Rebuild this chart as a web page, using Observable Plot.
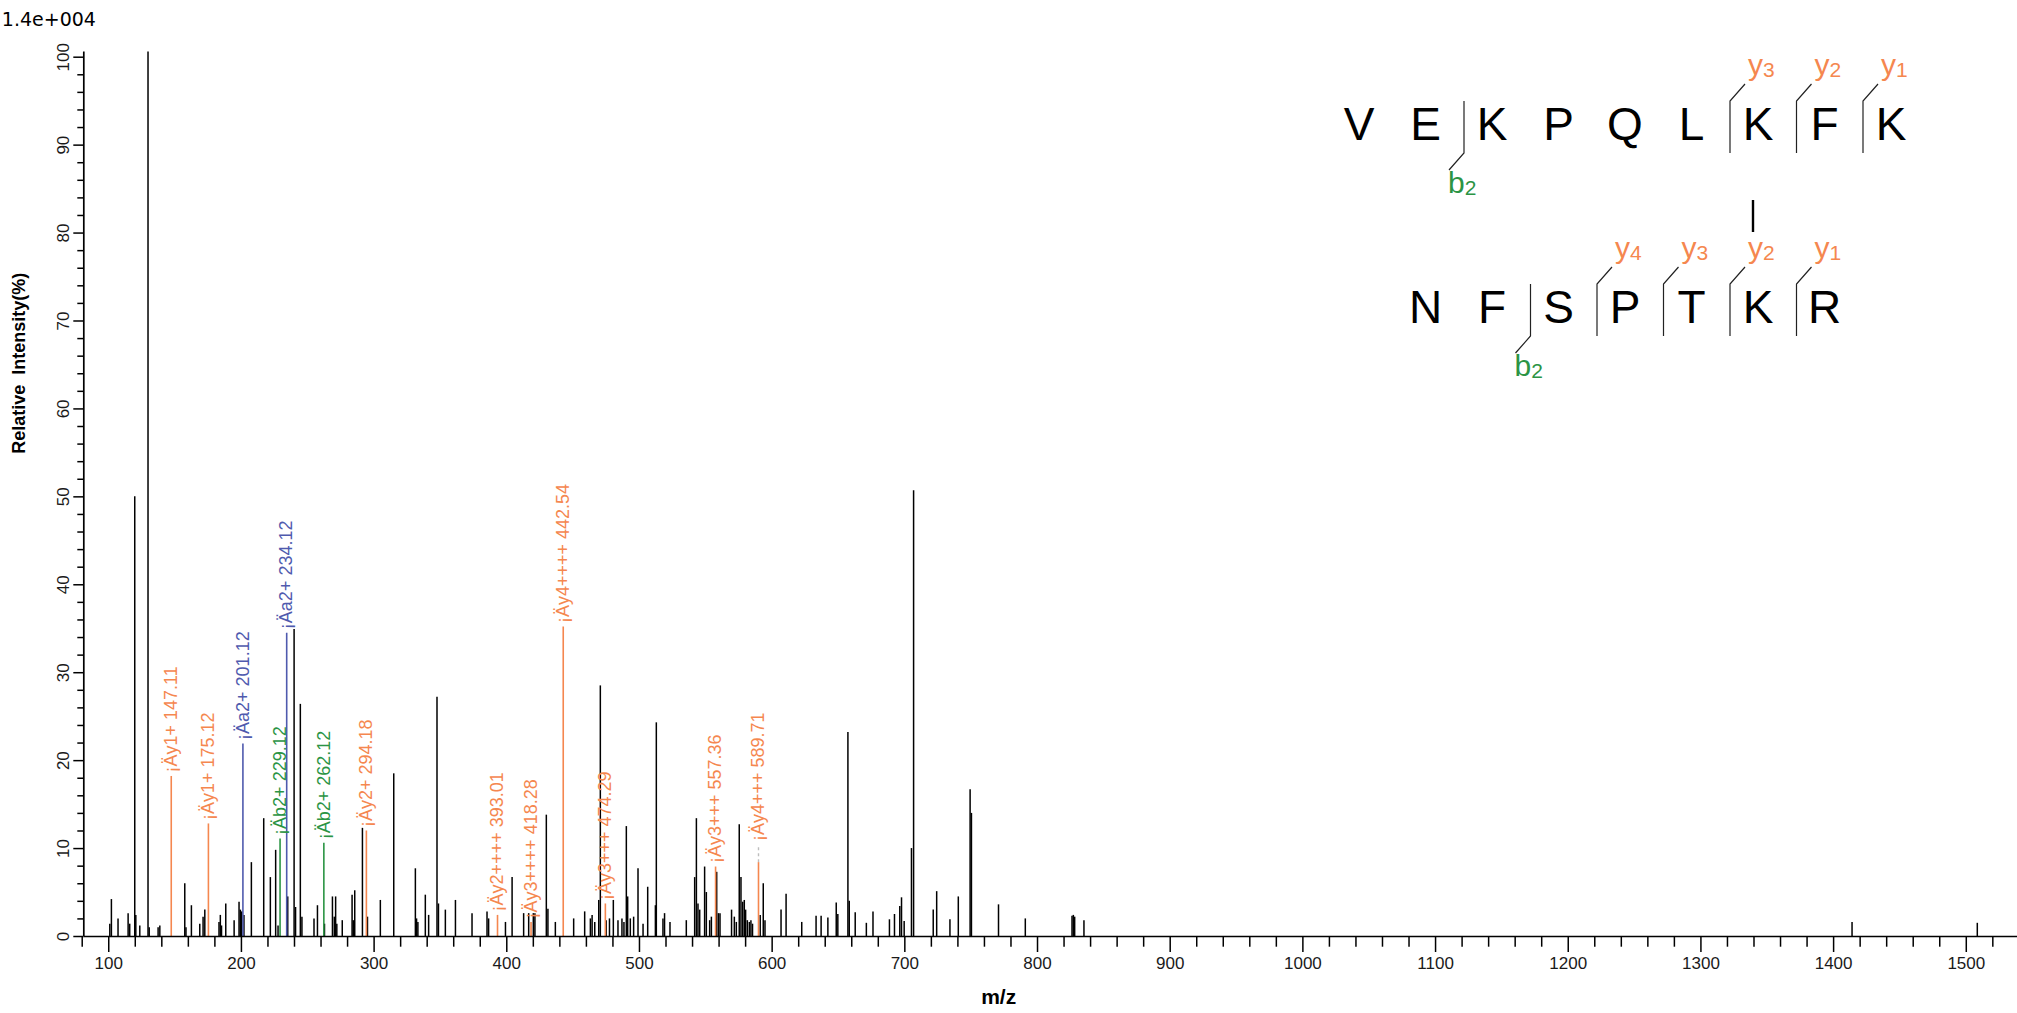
<!DOCTYPE html>
<html><head><meta charset="utf-8">
<script src="https://cdn.jsdelivr.net/npm/d3@7"></script>
<script src="https://cdn.jsdelivr.net/npm/@observablehq/plot@0.6"></script>
<style>
html,body{margin:0;padding:0;background:#fff;}
#wrap{position:relative;width:2017px;height:1013px;overflow:hidden;font-family:Arial,"Liberation Sans",sans-serif;}
#wrap svg{position:absolute;left:0;top:0;}
</style></head><body><div id="wrap"></div>
<script>
// ---------- data ----------
const peakMz = [100.8,102.0,107.0,114.6,115.8,119.6,120.4,123.4,129.6,130.5,137.2,138.5,157.3,158.2,162.3,168.6,171.1,172.4,183.1,184.1,185.0,188.2,194.5,198.2,199.2,200.2,201.9,207.5,216.8,221.8,225.8,227.6,234.9,239.7,240.8,244.4,245.6,254.7,257.3,262.6,268.6,270.0,271.0,271.9,276.0,283.4,284.3,285.4,291.2,295.0,304.7,314.8,331.1,332.0,333.0,338.6,341.1,347.4,348.5,353.7,361.3,373.8,385.1,386.3,399.0,404.0,412.7,416.5,420.0,421.2,429.8,431.0,436.6,450.4,458.7,463.0,464.3,466.3,469.3,470.5,474.9,477.4,480.3,483.8,486.8,488.3,490.1,491.1,493.1,495.6,498.9,502.7,506.2,512.0,512.7,517.7,518.9,523.0,535.3,541.6,542.9,544.1,545.4,549.1,550.4,552.9,554.2,558.2,559.5,560.7,569.4,571.5,573.0,575.2,576.5,577.8,579.0,580.0,581.3,582.8,584.0,585.2,591.0,593.3,594.6,606.7,610.5,622.3,633.1,636.9,642.0,648.3,649.5,657.1,658.1,662.6,671.0,676.0,688.4,692.2,696.2,697.5,699.5,705.0,706.6,721.4,724.0,734.0,740.3,749.2,750.2,770.6,790.8,826.0,827.0,828.0,835.0,1413.9,1508.3];
const peakInt = [1.4,4.2,2.0,2.6,1.4,50.0,2.4,1.2,100.6,1.0,1.0,1.2,6.0,1.0,3.5,1.4,2.2,3.0,1.6,2.4,1.2,3.7,1.8,3.9,3.0,2.8,2.4,8.4,13.4,6.7,9.8,1.2,4.5,34.9,3.3,26.4,2.2,2.0,3.5,1.4,4.5,2.2,4.5,1.4,1.8,4.7,1.8,5.2,12.3,2.2,4.1,18.5,7.7,2.0,1.6,4.7,2.4,27.2,3.7,3.0,4.1,2.6,2.8,2.0,1.6,6.7,2.6,2.6,2.6,2.6,13.8,3.1,1.6,2.0,2.8,2.0,2.4,1.6,4.1,28.5,1.8,2.0,4.1,1.8,2.0,1.6,12.5,4.5,2.0,2.2,7.7,1.4,5.6,3.5,24.3,2.0,2.6,1.6,1.8,6.7,13.4,3.7,3.0,7.9,5.0,1.8,2.2,7.3,2.6,2.6,3.0,2.2,1.6,12.7,6.7,3.9,4.1,3.0,1.8,1.6,1.8,1.4,2.4,6.0,1.8,3.0,4.8,1.6,2.3,2.3,2.1,3.8,2.5,23.2,4.0,2.7,1.5,2.8,1.9,2.5,3.4,4.4,1.7,10.0,50.7,3.0,5.1,1.9,4.5,16.7,14.0,3.6,2.0,2.3,2.4,2.2,1.8,1.6,1.5];

const ionMz    = [147.11,175.12,201.12,229.12,234.12,262.12,294.18,393.01,418.28,442.54,474.29,557.36,589.71];
const ionInt   = [18.2,12.8,21.9,11.1,34.5,10.6,12.0,2.4,1.6,35.2,3.7,7.9,8.4];
const ionType  = ["y","y","a","b","a","b","y","y","y","y","y","y","y"];
const ionLabel = ["¡Äy1+ 147.11","¡Äy1+ 175.12","¡Äa2+ 201.12","¡Äb2+ 229.12","¡Äa2+ 234.12","¡Äb2+ 262.12","¡Äy2+ 294.18","¡Äy2++++ 393.01","¡Äy3++++ 418.28","¡Äy4++++ 442.54","¡Äy3+++ 474.29","¡Äy3+++ 557.36","¡Äy4+++ 589.71"];
// faint grey extension drawn above one labelled peak
const extMz = [589.71], extFrom = [8.4], extTo = [10.4];

const xMajorTicks = [100,200,300,400,500,600,700,800,900,1000,1100,1200,1300,1400,1500];
const yMajorTicks = [0,10,20,30,40,50,60,70,80,90,100];
const xMinorTicks = d3.range(80, 1540, 20).filter(v => !xMajorTicks.includes(v));
const yMinorTicks = d3.range(0, 101, 2).filter(v => !yMajorTicks.includes(v));

const alphaSeq = ["V","E","K","P","Q","L","K","F","K"];
const betaSeq  = ["N","F","S","P","T","K","R"];
// cleavage marks: [index of residue after the cut, ion type, ion number]
const alphaCuts = [[2,"b",2],[6,"y",3],[7,"y",2],[8,"y",1]];
const betaCuts  = [[2,"b",2],[3,"y",4],[4,"y",3],[5,"y",2],[6,"y",1]];

const ionColors = {y:"#F5874F", a:"#4F5AAE", b:"#2B9444"};
const scaleTitle = "1.4e+004";

// ---------- chart ----------
const peaks = peakMz.map((m,i)=>({mz:m, int:peakInt[i]}));
const ions = ionMz.map((m,i)=>({mz:m, int:ionInt[i], type:ionType[i], label:ionLabel[i]}));
const ext = extMz.map((m,i)=>({mz:m, y1:extFrom[i], y2:extTo[i]}));
const ionLabelBase = ions.map(d => { const e = ext.find(v=>v.mz===d.mz); return {...d, base: e ? e.y2 : d.int}; });

const W = 2017, H = 1013;
const xDomain = [81.2, 1538.6];
const font = "Arial, 'Liberation Sans', sans-serif";

const chart = Plot.plot({
  width: W, height: H,
  marginLeft: 83.3, marginRight: 0, marginTop: 56.7, marginBottom: 77,
  x: {domain: xDomain, label: null},
  y: {domain: [0, 100], label: null},
  color: {domain: ["y","a","b"], range: [ionColors.y, ionColors.a, ionColors.b]},
  style: {fontFamily: font, background: "white", color: "black", overflow: "visible"},
  marks: [
    Plot.ruleX(peaks, {x: "mz", y1: 0, y2: "int", stroke: "black", strokeWidth: 1.5}),
    Plot.ruleX(ext, {x: "mz", y1: "y1", y2: "y2", stroke: "#bdbdbd", strokeWidth: 1.4, strokeDasharray: "3,3"}),
    Plot.ruleX(ions, {x: "mz", y1: 0, y2: "int", stroke: "type", strokeWidth: 1.6}),
    Plot.text(ionLabelBase, {x: "mz", y: "base", text: "label", fill: "type", rotate: -90,
      textAnchor: "start", lineAnchor: "middle", dy: -4, fontSize: 18}),
    // axes
    Plot.axisX(xMinorTicks, {tickSize: 10.7, tickFormat: () => "", strokeWidth: 1.5, label: null}),
    Plot.axisX(xMajorTicks, {tickSize: 16, tickPadding: 4, fontSize: 17, tickFormat: d => String(d), strokeWidth: 1.5, fill: "#1a1a1a", label: null}),
    Plot.axisY(yMinorTicks, {tickSize: 6, tickFormat: () => "", strokeWidth: 1.5, label: null}),
    Plot.axisY(yMajorTicks, {tickSize: 10, tickPadding: 5, tickRotate: -90, fontSize: 17, tickFormat: d => String(d), strokeWidth: 1.5, fill: "#1a1a1a", label: null}),
    Plot.ruleY([0], {strokeWidth: 1.7}),
    Plot.ruleX([xDomain[0]], {y1: 0, y2: 100.6, strokeWidth: 1.7}),
    // titles
    Plot.text(["m/z"], {frameAnchor: "bottom", dx: -52, dy: 61, lineAnchor: "middle", fontWeight: "bold", fontSize: 21}),
    Plot.text(["Relative  Intensity(%)"], {frameAnchor: "left", rotate: -90, dx: -65, dy: -43, lineAnchor: "middle", fontWeight: "bold", fontSize: 18}),
    Plot.text([scaleTitle], {frameAnchor: "top-left", dx: -82, dy: -37, textAnchor: "start", lineAnchor: "middle", fontSize: 19, fontFamily: "'DejaVu Sans', Verdana, sans-serif"})
  ]
});
document.getElementById("wrap").appendChild(chart);

// ---------- peptide diagram overlay ----------
const ov = d3.select("#wrap").append("svg").attr("width", W).attr("height", H)
  .style("pointer-events","none").style("font-family", font);
const step = 66.5, x0 = 1359;
function drawRow(seq, cuts, xStart, rowY) {
  const lx = i => xStart + i*step;
  ov.append("g").selectAll("text").data(seq).join("text")
    .attr("x", (d,i)=>lx(i)).attr("y", rowY).attr("text-anchor","middle")
    .attr("dominant-baseline","central").attr("font-size",46).attr("fill","#000").text(d=>d);
  cuts.forEach(([idx, type, n]) => {
    const bx = lx(idx) - 28, top = rowY - 23, bot = rowY + 29;
    const g = ov.append("g");
    if (type === "y") {
      g.append("path").attr("d", `M${bx},${bot}L${bx},${top}L${bx+15},${top-17}`)
        .attr("fill","none").attr("stroke","#222").attr("stroke-width",1.2);
      const t = g.append("text").attr("x", bx+18).attr("y", rowY-60).attr("dominant-baseline","central")
        .attr("font-size",30).attr("fill",ionColors.y).text("y");
      t.append("tspan").attr("font-size",21).attr("dy",5).text(n);
    } else {
      g.append("path").attr("d", `M${bx},${top}L${bx},${bot}L${bx-15},${bot+17}`)
        .attr("fill","none").attr("stroke","#222").attr("stroke-width",1.2);
      const t = g.append("text").attr("x", bx-16).attr("y", rowY+58).attr("dominant-baseline","central")
        .attr("font-size",30).attr("fill",ionColors.b).text("b");
      t.append("tspan").attr("font-size",21).attr("dy",5).text(n);
    }
  });
  return lx;
}
const row1Y = 124, row2Y = 307;
const lx1 = drawRow(alphaSeq, alphaCuts, x0, row1Y);
drawRow(betaSeq, betaCuts, x0 + step, row2Y);
// cross-link connector between the two linked lysines
ov.append("line").attr("x1", lx1(6)-5).attr("x2", lx1(6)-5)
  .attr("y1", row1Y+76).attr("y2", row1Y+108).attr("stroke","#000").attr("stroke-width",2.4);
</script></body></html>
